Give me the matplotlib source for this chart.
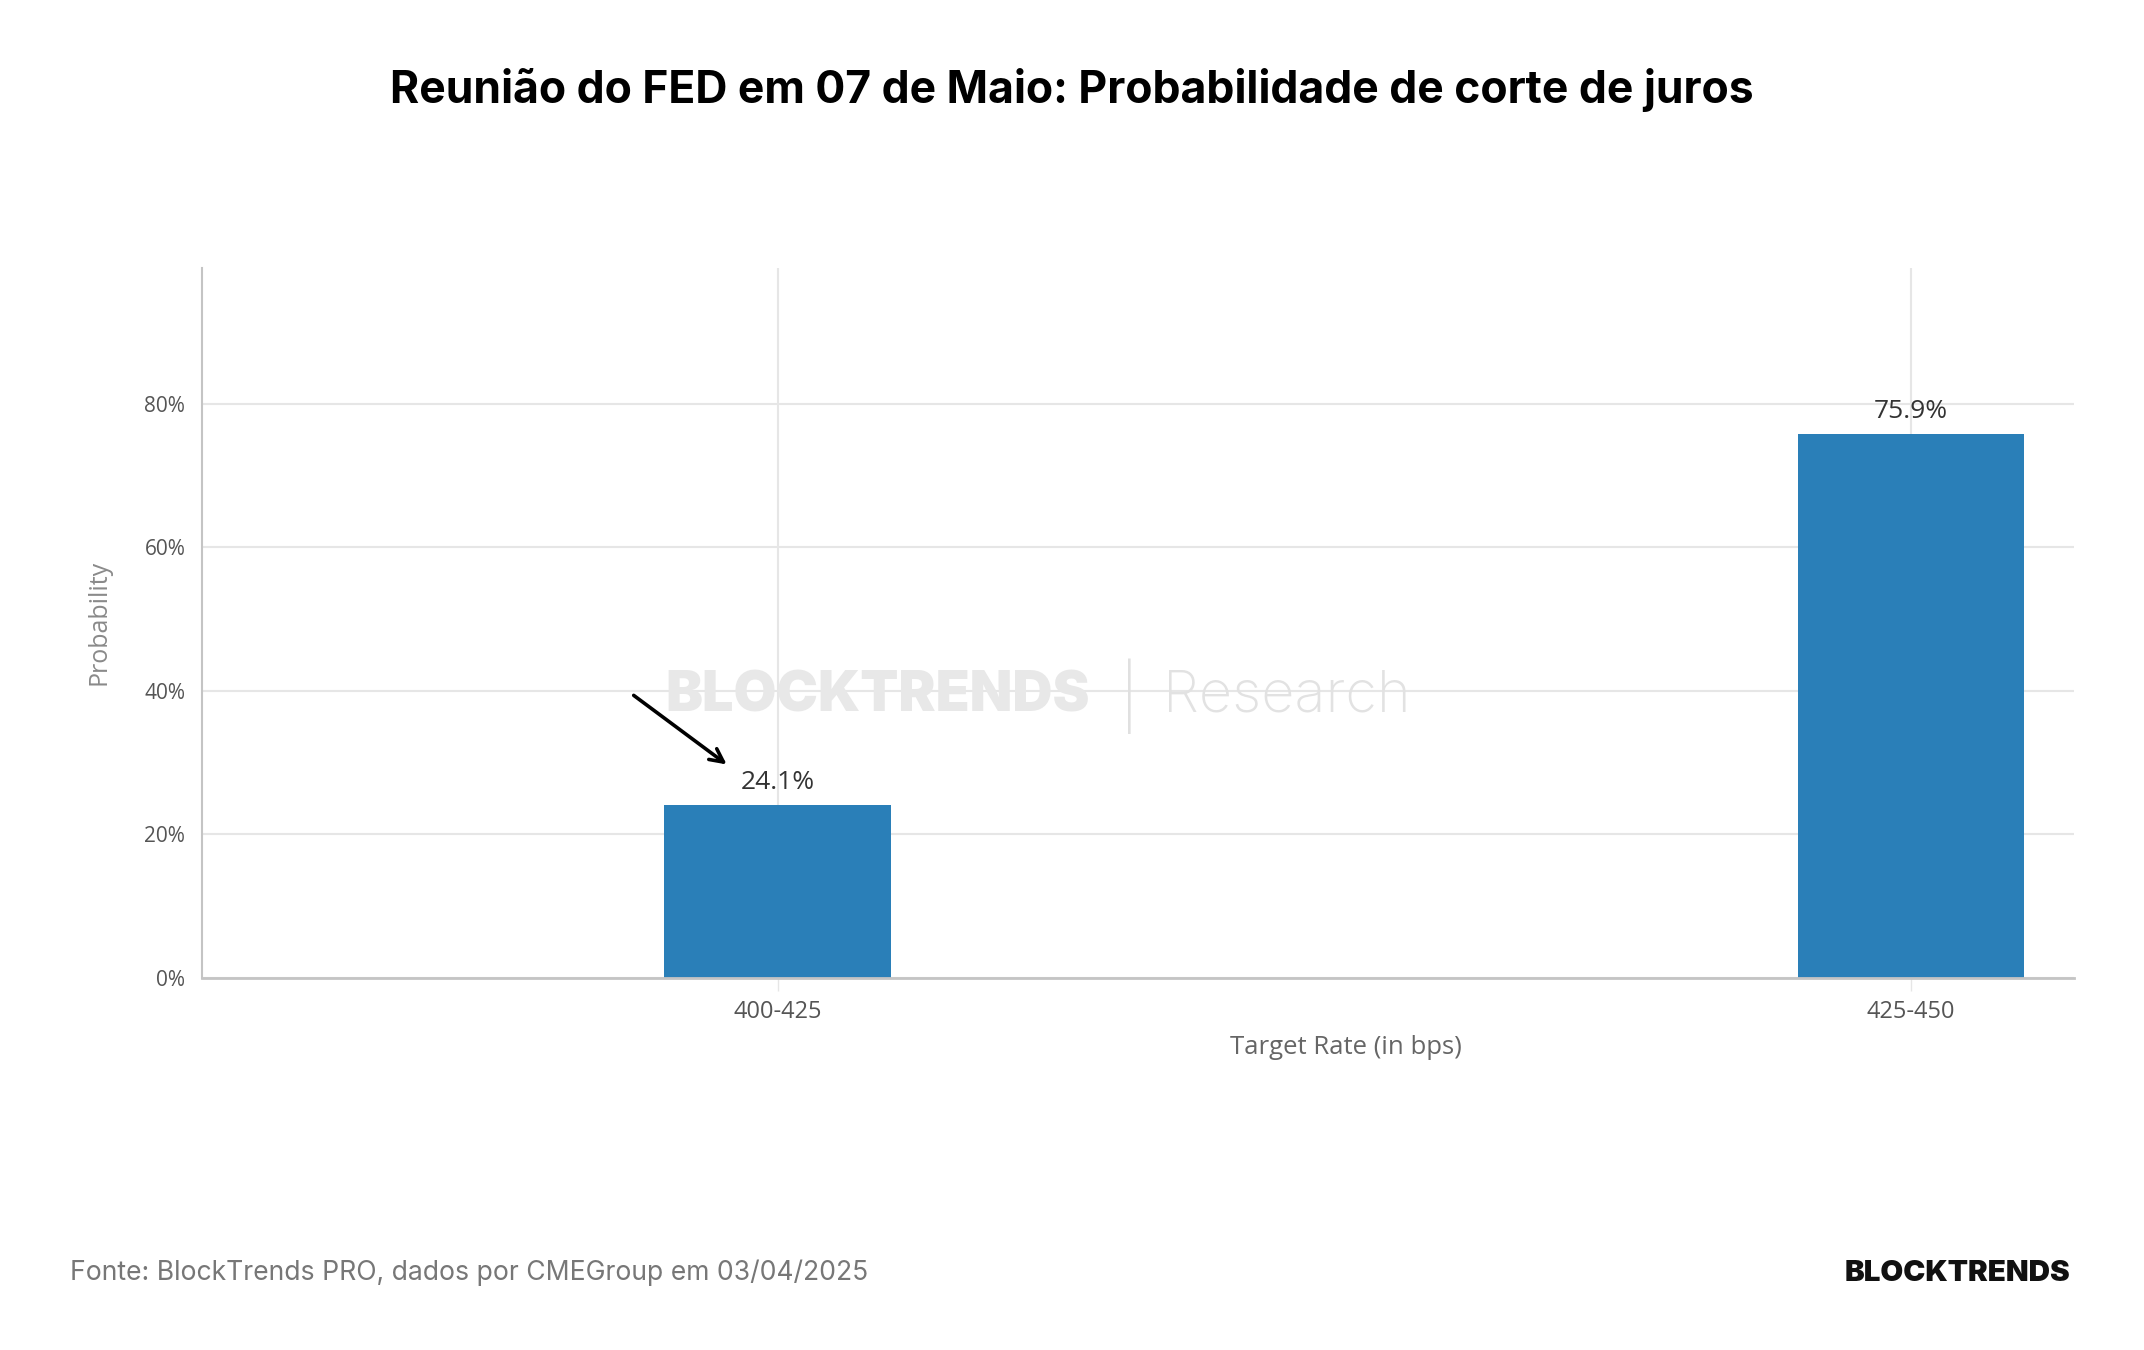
import matplotlib
matplotlib.use("Agg")
import matplotlib.pyplot as plt
import numpy as np

# data
rates = ["400-425", "425-450"]
probs = [24.1, 75.9]
y_ticks = [0, 20, 40, 60, 80]

TITLE = "Reunião do FED em 07 de Maio: Probabilidade de corte de juros"
SOURCE = "Fonte: BlockTrends PRO, dados por CMEGroup em 03/04/2025"

BAR_COLOR = "#2a7fb8"
GRID_COLOR = "#e6e6e6"
AXIS_COLOR = "#c4c4c4"

plt.rcParams["font.family"] = ["Open Sans", "DejaVu Sans"]

fig = plt.figure(figsize=(21.44, 13.5), dpi=100)
ax = fig.add_axes([0.0942, 0.2759, 0.8732, 0.5256])

x = np.arange(len(rates))
ax.bar(x, probs, width=0.2, color=BAR_COLOR, zorder=3)

for xi, p in zip(x, probs):
    ax.text(xi, p + 1.3, f"{p:.1f}%", ha="center", va="bottom",
            fontsize=19, color="#333333", zorder=4)

ax.set_xlim(-0.508, 1.144)
ax.set_ylim(0, 99)
ax.set_xticks(x)
ax.set_xticklabels(rates, fontsize=17, color="#555555")
ax.set_yticks(y_ticks)
ax.set_yticklabels([f"{t}%" for t in y_ticks], fontsize=15, color="#555555")

ax.tick_params(axis="y", length=0, pad=12)
ax.tick_params(axis="x", length=9, width=1, color=GRID_COLOR, pad=7)

ax.grid(True, color=GRID_COLOR, linewidth=1.5, zorder=0)
ax.set_axisbelow(True)

for side in ["top", "right"]:
    ax.spines[side].set_visible(False)
ax.spines["left"].set_color(AXIS_COLOR)
ax.spines["left"].set_linewidth(1.5)
ax.spines["bottom"].set_color(AXIS_COLOR)
ax.spines["bottom"].set_linewidth(2)
ax.spines["bottom"].set_zorder(5)

# axis labels (placed where the screenshot has them)
ax.text(-0.055, 0.5, "Probability", transform=ax.transAxes, rotation=90,
        ha="center", va="center", fontsize=18, color="#8a8a8a")
ax.text(0.611, -0.099, "Target Rate (in bps)", transform=ax.transAxes,
        ha="center", va="center", fontsize=18.5, color="#666666")

# arrow pointing at the cut probability
ax.annotate("", xy=(x[0] - 0.043, probs[0] + 5.4),
            xytext=(x[0] - 0.129, probs[0] + 15.5),
            arrowprops=dict(arrowstyle="->", color="black", lw=2.6,
                            mutation_scale=24),
            zorder=6)

# watermark
fig.text(0.4095, 0.484, "BLOCKTRENDS", ha="center", va="center",
         fontsize=40, fontweight="black", color="#e8e8e8",
         family=["Inter", "DejaVu Sans"], zorder=1)
fig.text(0.5265, 0.484, "|", ha="center", va="center", fontsize=46,
         fontweight="light", color="#e0e0e0",
         family=["Inter", "DejaVu Sans"], zorder=1)
fig.text(0.6, 0.484, "Research", ha="center", va="center", fontsize=41.5,
         fontweight="light", color="#e2e2e2",
         family=["Inter", "DejaVu Sans"], zorder=1)

# title and footer
fig.text(0.5, 0.933, TITLE, ha="center", va="center", fontsize=32,
         fontweight="bold", color="black", family=["Inter", "DejaVu Sans"])
fig.text(0.0327, 0.057, SOURCE, ha="left", va="center", fontsize=19.1,
         color="#777777", family=["Inter", "DejaVu Sans"])
fig.text(0.9655, 0.057, "BLOCKTRENDS", ha="right", va="center", fontsize=21.3,
         fontweight="black", color="#111111", family=["Inter", "DejaVu Sans"])

fig.savefig("out.png", dpi=100, facecolor="white")
